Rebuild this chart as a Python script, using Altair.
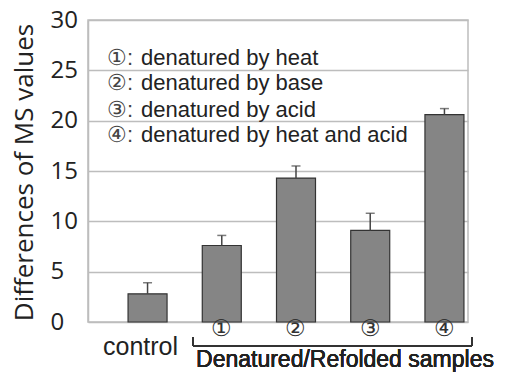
import altair as alt
import pandas as pd

categories = ["control", "①", "②", "③", "④"]
positions = [0, 1, 2, 3, 4]
values = [2.8, 7.6, 14.3, 9.1, 20.6]
err_top = [3.9, 8.6, 15.5, 10.8, 21.2]
legend_nums = ["①:", "②:", "③:", "④:"]
legend_texts = ["denatured by heat", "denatured by base",
                "denatured by acid", "denatured by heat and acid"]
legend_y = [26.2, 23.7, 21.1, 18.6]

df = pd.DataFrame({"cat": categories, "pos": positions, "val": values, "top": err_top})
leg = pd.DataFrame({"num": legend_nums, "txt": legend_texts, "y": legend_y})
ctrl = df[df["cat"] == "control"]
nums = df[df["cat"] != "control"]

xs = alt.Scale(domain=[-0.735, 4.25], nice=False, zero=False)
ys = alt.Scale(domain=[0, 30], nice=False)

base = alt.Chart(df)

bars = base.mark_bar(size=39, color="#858585", stroke="#333333", strokeWidth=1.2).encode(
    x=alt.X("pos:Q", scale=xs, axis=None),
    y=alt.Y("val:Q", scale=ys, axis=alt.Axis(
        title="Differences of MS values", values=[0, 5, 10, 15, 20, 25, 30],
        grid=True, gridColor="#bdbdbd", gridWidth=1.5, ticks=False,
        domainColor="#bdbdbd", domainWidth=1.5,
        labelFont="Open Sans", labelFontSize=24, labelColor="#222",
        labelAlign="left", labelPadding=38,
        titleFont="Open Sans", titleFontSize=26, titleFontWeight="normal",
        titleColor="#222", titleX=-64, titleY=152, titleAngle=-90,
        titleAlign="center", titleBaseline="middle")),
)

err = base.mark_rule(color="#444", strokeWidth=1.5).encode(
    x=alt.X("pos:Q", scale=xs), y=alt.Y("val:Q", scale=ys), y2="top:Q")
caps = base.mark_tick(color="#444", thickness=1.5, size=9, orient="horizontal").encode(
    x=alt.X("pos:Q", scale=xs), y=alt.Y("top:Q", scale=ys))

ctrl_label = alt.Chart(ctrl).mark_text(font="Liberation Sans", fontSize=25, color="#222",
                                       baseline="middle", dx=-7).encode(
    x=alt.X("pos:Q", scale=xs), y=alt.value(327), text="cat:N")
num_labels = alt.Chart(nums).mark_text(font="Liberation Sans", fontSize=23, color="#333",
                                       baseline="middle").encode(
    x=alt.X("pos:Q", scale=xs), y=alt.value(309), text="cat:N")

bracket_h = alt.Chart(df).mark_rule(color="#333", strokeWidth=1.3).encode(
    x=alt.value(105), x2=alt.value(384), y=alt.value(326))
bracket_l = alt.Chart(df).mark_rule(color="#333", strokeWidth=1.3).encode(
    x=alt.value(105), y=alt.value(317), y2=alt.value(326))
bracket_r = alt.Chart(df).mark_rule(color="#333", strokeWidth=1.3).encode(
    x=alt.value(384), y=alt.value(317), y2=alt.value(326))
xtitle = alt.Chart(df).mark_text(font="Liberation Sans", fontSize=23, color="#222",
                                 baseline="middle", text="Denatured/Refolded samples").encode(
    x=alt.value(257), y=alt.value(340))

legend_n = alt.Chart(leg).mark_text(font="Liberation Sans", fontSize=22, color="#444",
                                    align="left", baseline="middle").encode(
    x=alt.value(19), y=alt.Y("y:Q", scale=ys), text="num:N")
legend_t = alt.Chart(leg).mark_text(font="Liberation Sans", fontSize=22, color="#222",
                                    align="left", baseline="middle").encode(
    x=alt.value(53), y=alt.Y("y:Q", scale=ys), text="txt:N")

chart = alt.layer(bars, err, caps, ctrl_label, num_labels, bracket_h, bracket_l, bracket_r,
                  xtitle, legend_n, legend_t).properties(
    width=380, height=302,
    autosize=alt.AutoSizeParams(type="none"),
    padding={"left": 80, "top": 12, "right": 40, "bottom": 50},
).configure_view(stroke="#bdbdbd", strokeWidth=1.5)

chart.save("out.html", embed_options={"renderer": "svg", "actions": False})
